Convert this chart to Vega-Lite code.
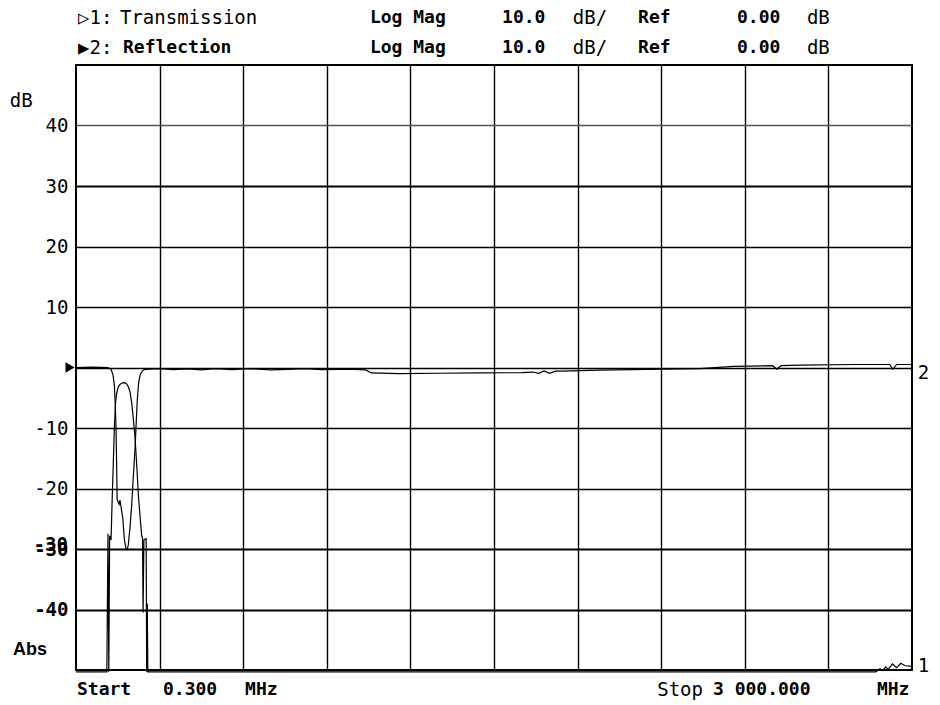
{
  "$schema": "https://vega.github.io/schema/vega-lite/v6.json",
  "width": 836,
  "height": 605,
  "autosize": {"type": "none"},
  "padding": {"left": 76, "top": 65, "right": 28, "bottom": 35},
  "background": "white",
  "config": {"view": {"stroke": "black", "strokeWidth": 2}},
  "datasets": {
    "traces": [
      {"series": "Reflection", "f": 0.3, "db": 0},
      {"series": "Reflection", "f": 60, "db": 0.05},
      {"series": "Reflection", "f": 115, "db": 0},
      {"series": "Reflection", "f": 126, "db": -0.3},
      {"series": "Reflection", "f": 133, "db": -1.2},
      {"series": "Reflection", "f": 138, "db": -3},
      {"series": "Reflection", "f": 141, "db": -6},
      {"series": "Reflection", "f": 144, "db": -10},
      {"series": "Reflection", "f": 146, "db": -16},
      {"series": "Reflection", "f": 148, "db": -21.8},
      {"series": "Reflection", "f": 152, "db": -22.3},
      {"series": "Reflection", "f": 155, "db": -22.6},
      {"series": "Reflection", "f": 158, "db": -21.9},
      {"series": "Reflection", "f": 161, "db": -22.8},
      {"series": "Reflection", "f": 168, "db": -24.8},
      {"series": "Reflection", "f": 174, "db": -28.5},
      {"series": "Reflection", "f": 180, "db": -30},
      {"series": "Reflection", "f": 184, "db": -30.1},
      {"series": "Reflection", "f": 188, "db": -29.3},
      {"series": "Reflection", "f": 194, "db": -26.5},
      {"series": "Reflection", "f": 200, "db": -22.8},
      {"series": "Reflection", "f": 206, "db": -18},
      {"series": "Reflection", "f": 212, "db": -13.5},
      {"series": "Reflection", "f": 216, "db": -9.5},
      {"series": "Reflection", "f": 220, "db": -5.5},
      {"series": "Reflection", "f": 225, "db": -2.5},
      {"series": "Reflection", "f": 231, "db": -1.1},
      {"series": "Reflection", "f": 240, "db": -0.5},
      {"series": "Reflection", "f": 250, "db": -0.3},
      {"series": "Reflection", "f": 300, "db": -0.2},
      {"series": "Reflection", "f": 350, "db": -0.35},
      {"series": "Reflection", "f": 400, "db": -0.25},
      {"series": "Reflection", "f": 450, "db": -0.4},
      {"series": "Reflection", "f": 500, "db": -0.2},
      {"series": "Reflection", "f": 560, "db": -0.35},
      {"series": "Reflection", "f": 620, "db": -0.2},
      {"series": "Reflection", "f": 700, "db": -0.4},
      {"series": "Reflection", "f": 760, "db": -0.3},
      {"series": "Reflection", "f": 820, "db": -0.2},
      {"series": "Reflection", "f": 880, "db": -0.35},
      {"series": "Reflection", "f": 940, "db": -0.3},
      {"series": "Reflection", "f": 1000, "db": -0.3},
      {"series": "Reflection", "f": 1040, "db": -0.4},
      {"series": "Reflection", "f": 1060, "db": -0.9},
      {"series": "Reflection", "f": 1160, "db": -1.0},
      {"series": "Reflection", "f": 1300, "db": -0.95},
      {"series": "Reflection", "f": 1450, "db": -0.9},
      {"series": "Reflection", "f": 1600, "db": -0.85},
      {"series": "Reflection", "f": 1640, "db": -0.75},
      {"series": "Reflection", "f": 1660, "db": -0.95},
      {"series": "Reflection", "f": 1680, "db": -0.55},
      {"series": "Reflection", "f": 1700, "db": -0.95},
      {"series": "Reflection", "f": 1720, "db": -0.6},
      {"series": "Reflection", "f": 1740, "db": -0.6},
      {"series": "Reflection", "f": 1880, "db": -0.45},
      {"series": "Reflection", "f": 2050, "db": -0.3},
      {"series": "Reflection", "f": 2240, "db": -0.2},
      {"series": "Reflection", "f": 2360, "db": 0.2},
      {"series": "Reflection", "f": 2500, "db": 0.3},
      {"series": "Reflection", "f": 2515, "db": -0.3},
      {"series": "Reflection", "f": 2530, "db": 0.3},
      {"series": "Reflection", "f": 2600, "db": 0.4},
      {"series": "Reflection", "f": 2800, "db": 0.5},
      {"series": "Reflection", "f": 2920, "db": 0.5},
      {"series": "Reflection", "f": 2931, "db": -0.3},
      {"series": "Reflection", "f": 2945, "db": 0.5},
      {"series": "Reflection", "f": 3000, "db": 0.5},
      {"series": "Transmission", "f": 0.3, "db": -50.3},
      {"series": "Transmission", "f": 111, "db": -50.3},
      {"series": "Transmission", "f": 115, "db": -27.5},
      {"series": "Transmission", "f": 118, "db": -50.3},
      {"series": "Transmission", "f": 121, "db": -27.8},
      {"series": "Transmission", "f": 126, "db": -28.5},
      {"series": "Transmission", "f": 130, "db": -22},
      {"series": "Transmission", "f": 134, "db": -16},
      {"series": "Transmission", "f": 138, "db": -10},
      {"series": "Transmission", "f": 142, "db": -6},
      {"series": "Transmission", "f": 146, "db": -4.3},
      {"series": "Transmission", "f": 152, "db": -3.2},
      {"series": "Transmission", "f": 158, "db": -2.8},
      {"series": "Transmission", "f": 164, "db": -2.6},
      {"series": "Transmission", "f": 170, "db": -2.5},
      {"series": "Transmission", "f": 176, "db": -2.55},
      {"series": "Transmission", "f": 182, "db": -2.7},
      {"series": "Transmission", "f": 188, "db": -3.2},
      {"series": "Transmission", "f": 194, "db": -4},
      {"series": "Transmission", "f": 200, "db": -5.8},
      {"series": "Transmission", "f": 206, "db": -8.5},
      {"series": "Transmission", "f": 212, "db": -11.5},
      {"series": "Transmission", "f": 218, "db": -16},
      {"series": "Transmission", "f": 224, "db": -21},
      {"series": "Transmission", "f": 230, "db": -24.5},
      {"series": "Transmission", "f": 236, "db": -27.8},
      {"series": "Transmission", "f": 239, "db": -28.2},
      {"series": "Transmission", "f": 241, "db": -40.5},
      {"series": "Transmission", "f": 244, "db": -28.5},
      {"series": "Transmission", "f": 252, "db": -28.3},
      {"series": "Transmission", "f": 254, "db": -50.3},
      {"series": "Transmission", "f": 256, "db": -39},
      {"series": "Transmission", "f": 258, "db": -50.3},
      {"series": "Transmission", "f": 2870, "db": -50.3},
      {"series": "Transmission", "f": 2885, "db": -49.8},
      {"series": "Transmission", "f": 2895, "db": -50.1},
      {"series": "Transmission", "f": 2905, "db": -49.5},
      {"series": "Transmission", "f": 2915, "db": -49.9},
      {"series": "Transmission", "f": 2930, "db": -49.0},
      {"series": "Transmission", "f": 2945, "db": -49.6},
      {"series": "Transmission", "f": 2960, "db": -48.9},
      {"series": "Transmission", "f": 2975, "db": -49.3},
      {"series": "Transmission", "f": 3000, "db": -49.4}
    ],
    "labels": [
      {"role": "plain", "text": "▷1:", "f": 7.5, "db": 57.8},
      {"role": "plain", "text": "Transmission", "f": 158, "db": 57.8},
      {"role": "plain", "text": "dB/", "f": 1783, "db": 57.8},
      {"role": "plain", "text": "dB", "f": 2623, "db": 57.8},
      {"role": "plain", "text": "▶2:", "f": 7.5, "db": 52.8},
      {"role": "plain", "text": "dB/", "f": 1783, "db": 52.8},
      {"role": "plain", "text": "dB", "f": 2623, "db": 52.8},
      {"role": "plain", "text": "dB", "f": -237, "db": 44},
      {"role": "plain", "text": "2", "f": 3021, "db": -0.9},
      {"role": "plain", "text": "1", "f": 3021, "db": -49.3},
      {"role": "bold", "text": "Log Mag", "f": 1055, "db": 57.8},
      {"role": "bold", "text": "10.0", "f": 1529, "db": 57.8},
      {"role": "bold", "text": "Ref", "f": 2017, "db": 57.8},
      {"role": "bold", "text": "0.00", "f": 2372, "db": 57.8},
      {"role": "bold", "text": "Reflection", "f": 169, "db": 52.8},
      {"role": "bold", "text": "Log Mag", "f": 1055, "db": 52.8},
      {"role": "bold", "text": "10.0", "f": 1529, "db": 52.8},
      {"role": "bold", "text": "Ref", "f": 2017, "db": 52.8},
      {"role": "bold", "text": "0.00", "f": 2372, "db": 52.8},
      {"role": "bold", "text": "Start", "f": 3.9, "db": -53.3},
      {"role": "bold", "text": "0.300", "f": 312.5, "db": -53.3},
      {"role": "bold", "text": "MHz", "f": 607, "db": -53.3},
      {"role": "bold", "text": "3 000.000", "f": 2286, "db": -53.3},
      {"role": "bold", "text": "MHz", "f": 2874, "db": -53.3},
      {"role": "plainright", "text": "Stop", "f": 2250, "db": -53.3},
      {"role": "boldright", "text": "-30", "f": -28.7, "db": -29.3},
      {"role": "sansbold", "text": "Abs", "f": -226, "db": -46.7}
    ],
    "marker": [{"f": -21, "db": 0}]
  },
  "layer": [
    {
      "data": {"name": "traces"},
      "mark": {"type": "line", "color": "black", "strokeWidth": 1.2, "clip": false},
      "encoding": {
        "x": {
          "field": "f", "type": "quantitative", "title": null,
          "scale": {"domain": [0.3, 3000], "nice": false, "zero": false},
          "axis": {"title": null, "labels": false, "ticks": false, "domain": false, "grid": true,
                   "values": [300, 600, 900, 1200, 1500, 1800, 2100, 2400, 2700],
                   "gridColor": "black", "gridWidth": 1.4, "gridOpacity": 1}
        },
        "y": {
          "field": "db", "type": "quantitative", "title": null,
          "scale": {"domain": [-50, 50], "nice": false, "zero": false},
          "axis": {"title": null, "ticks": false, "domain": false, "grid": true,
                   "values": [-40, -30, -20, -10, 0, 10, 20, 30, 40],
                   "labelExpr": "datum.value == 0 ? '' : (datum.value < 0 ? '-' + abs(datum.value) : '' + datum.value)",
                   "labelFont": "DejaVu Sans Mono", "labelFontSize": 19, "labelColor": "black",
                   "labelFontWeight": {"condition": {"test": "datum.value <= -30", "value": "bold"}, "value": "normal"},
                   "labelPadding": 8,
                   "gridColor": {"condition": {"test": "datum.value == 40", "value": "#555555"}, "value": "black"},
                   "gridWidth": {"condition": {"test": "datum.value == 30 || datum.value <= -30", "value": 2.2}, "value": 1.4},
                   "gridOpacity": 1}
        },
        "detail": {"field": "series", "type": "nominal"}
      }
    },
    {
      "data": {"name": "marker"},
      "mark": {"type": "point", "shape": "triangle-right", "filled": true, "color": "black", "size": 110, "opacity": 1, "clip": false},
      "encoding": {
        "x": {"field": "f", "type": "quantitative", "title": null},
        "y": {"field": "db", "type": "quantitative", "title": null}
      }
    },
    {
      "data": {"name": "labels"},
      "transform": [{"filter": "datum.role == 'plain'"}],
      "mark": {"type": "text", "font": "DejaVu Sans Mono", "fontSize": 19, "fontWeight": "normal", "align": "left", "baseline": "middle", "color": "black"},
      "encoding": {
        "x": {"field": "f", "type": "quantitative", "title": null},
        "y": {"field": "db", "type": "quantitative", "title": null},
        "text": {"field": "text"}
      }
    },
    {
      "data": {"name": "labels"},
      "transform": [{"filter": "datum.role == 'bold'"}],
      "mark": {"type": "text", "font": "DejaVu Sans Mono", "fontSize": 18, "fontWeight": "bold", "align": "left", "baseline": "middle", "color": "black"},
      "encoding": {
        "x": {"field": "f", "type": "quantitative", "title": null},
        "y": {"field": "db", "type": "quantitative", "title": null},
        "text": {"field": "text"}
      }
    },
    {
      "data": {"name": "labels"},
      "transform": [{"filter": "datum.role == 'plainright'"}],
      "mark": {"type": "text", "font": "DejaVu Sans Mono", "fontSize": 19, "fontWeight": "normal", "align": "right", "baseline": "middle", "color": "black"},
      "encoding": {
        "x": {"field": "f", "type": "quantitative", "title": null},
        "y": {"field": "db", "type": "quantitative", "title": null},
        "text": {"field": "text"}
      }
    },
    {
      "data": {"name": "labels"},
      "transform": [{"filter": "datum.role == 'boldright'"}],
      "mark": {"type": "text", "font": "DejaVu Sans Mono", "fontSize": 19, "fontWeight": "bold", "align": "right", "baseline": "middle", "color": "black"},
      "encoding": {
        "x": {"field": "f", "type": "quantitative", "title": null},
        "y": {"field": "db", "type": "quantitative", "title": null},
        "text": {"field": "text"}
      }
    },
    {
      "data": {"name": "labels"},
      "transform": [{"filter": "datum.role == 'sansbold'"}],
      "mark": {"type": "text", "font": "Liberation Sans", "fontSize": 18, "fontWeight": "bold", "align": "left", "baseline": "middle", "color": "black"},
      "encoding": {
        "x": {"field": "f", "type": "quantitative", "title": null},
        "y": {"field": "db", "type": "quantitative", "title": null},
        "text": {"field": "text"}
      }
    }
  ]
}
